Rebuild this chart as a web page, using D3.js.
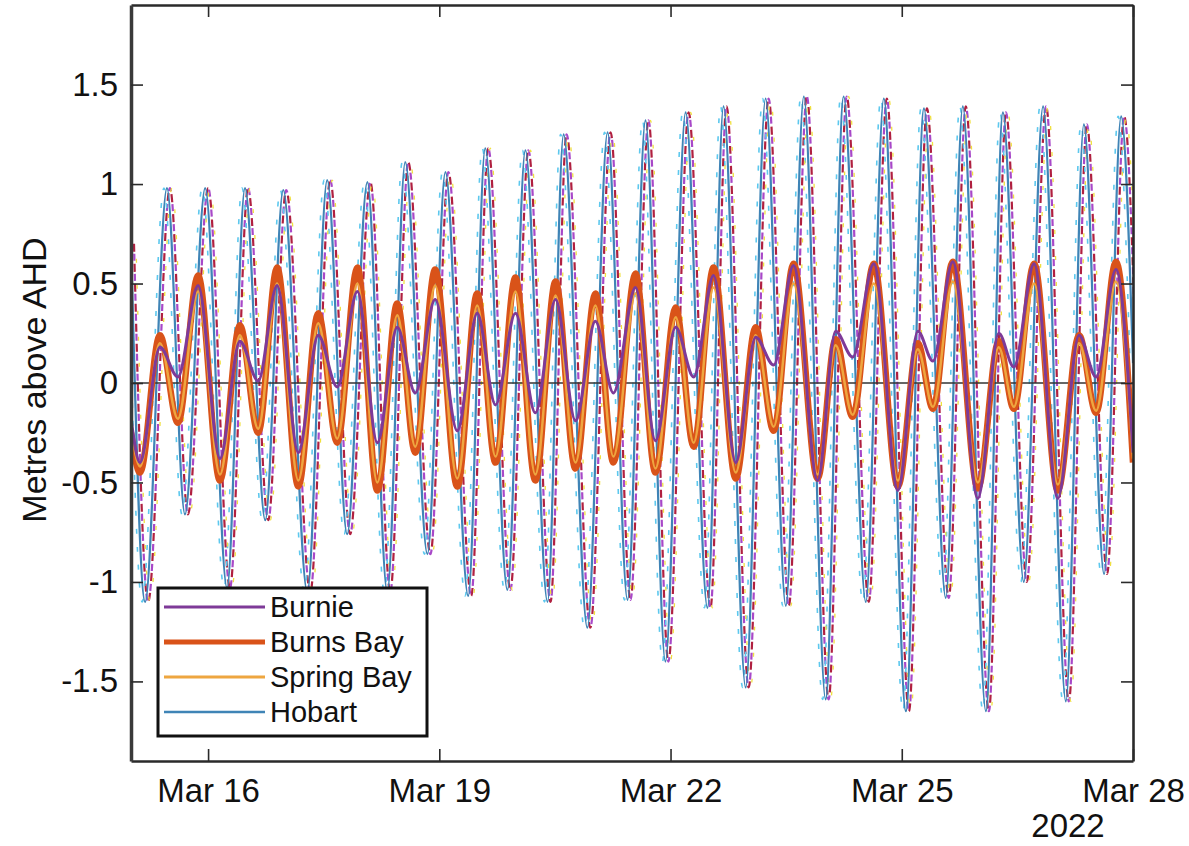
<!DOCTYPE html>
<html><head><meta charset="utf-8">
<script src="https://cdn.jsdelivr.net/npm/d3@7"></script>
<style>
body{margin:0;background:#fff;}
text{font-family:"Liberation Sans",Arial,sans-serif;fill:#111;}
</style>
</head><body>
<svg id="c" width="1189" height="846"></svg>
<script>
// ---------------- data ----------------
const startDate = "2022-03-15T00:00";
const endDate = "2022-03-28T00:00";
const xTickDates = ["2022-03-16T00:00","2022-03-19T00:00","2022-03-22T00:00","2022-03-25T00:00","2022-03-28T00:00"];
const yTicks = [-1.5,-1,-0.5,0,0.5,1,1.5];
const yearLabel = "2022";
const yLabel = "Metres above AHD";
const seriesNames = ["Burnie","Burns Bay","Spring Bay","Hobart"];

// hours after 15 Mar 00:00 for the three low-range gauges (turning points)
const smallHours = [0,2.8,9.0,14.6,20.9,27.7,33.9,39.6,45.5,52.1,58.3,64.2,70.5,76.7,82.9,88.5,94.7,101.6,107.8,113.5,119.7,125.9,132.2,138.4,144.6,150.2,157.1,163.3,169.6,175.2,181.4,188.3,194.5,200.1,206.3,213.8,219.4,224.7,231.3,238.8,245.0,249.7,255.9,263.7,270.2,274.9,281.2,288.6,295.2,300.5,306.7,312];
const burnieLevels = [-0.18,-0.40,0.18,0.03,0.49,-0.38,0.21,0.01,0.49,-0.35,0.24,-0.02,0.46,-0.30,0.28,-0.05,0.42,-0.24,0.35,-0.11,0.35,-0.15,0.42,-0.19,0.31,-0.05,0.48,-0.29,0.28,0.03,0.54,-0.40,0.23,0.09,0.59,-0.49,0.26,0.13,0.60,-0.54,0.26,0.11,0.61,-0.58,0.25,0.08,0.60,-0.58,0.24,0.03,0.57,-0.35];
const burnsBayLevels = [-0.25,-0.45,0.24,-0.20,0.54,-0.49,0.29,-0.25,0.58,-0.52,0.35,-0.30,0.58,-0.54,0.40,-0.35,0.57,-0.52,0.45,-0.40,0.53,-0.49,0.51,-0.43,0.45,-0.40,0.55,-0.45,0.38,-0.32,0.58,-0.48,0.28,-0.24,0.60,-0.48,0.22,-0.17,0.60,-0.52,0.20,-0.13,0.61,-0.53,0.21,-0.13,0.60,-0.54,0.24,-0.15,0.61,-0.40];
const springBayLevels = [-0.22,-0.42,0.20,-0.18,0.46,-0.46,0.24,-0.23,0.50,-0.49,0.30,-0.28,0.50,-0.50,0.34,-0.32,0.49,-0.48,0.39,-0.37,0.46,-0.46,0.44,-0.40,0.39,-0.37,0.45,-0.43,0.33,-0.30,0.48,-0.45,0.24,-0.22,0.50,-0.46,0.19,-0.16,0.50,-0.49,0.17,-0.12,0.51,-0.50,0.18,-0.12,0.50,-0.51,0.20,-0.14,0.51,-0.38];

// large-range gauge
const hobartHours = [0,4.4,11.2,16.8,23.1,29.9,35.5,41.8,47.4,54.9,61.1,67.3,73.6,79.8,85.4,92.3,97.9,105.0,110.3,117.2,122.8,129.7,134.7,142.1,148.4,154.6,160.2,166.4,172.7,179.5,184.5,191.4,197.6,203.9,209.5,216.3,221.9,228.8,234.4,241.3,246.9,253.7,259.0,266.2,271.5,278.0,284.0,291.1,296.7,303.0,308.3,312];
const hobartLevels = [0.70,-1.10,0.98,-0.66,0.98,-1.03,0.98,-0.69,0.97,-1.05,1.02,-0.76,1.01,-1.05,1.11,-0.86,1.06,-1.07,1.18,-1.04,1.17,-1.10,1.25,-1.23,1.26,-1.09,1.32,-1.40,1.36,-1.13,1.39,-1.53,1.43,-1.12,1.44,-1.59,1.44,-1.10,1.43,-1.65,1.38,-1.08,1.39,-1.65,1.36,-1.00,1.39,-1.60,1.30,-0.96,1.34,0.10];

// ---------------- chart ----------------
const W = 1189, H = 846;
const M = {left:131, right:56, top:5, bottom:85};
const parse = d3.timeParse("%Y-%m-%dT%H:%M");
const t0 = parse(startDate), t1 = parse(endDate);
const svg = d3.select("#c");

const x = d3.scaleTime().domain([t0,t1]).range([M.left, W-M.right]);
const y = d3.scaleLinear().domain([-1.9,1.9]).range([H-M.bottom, M.top]);

const toPts = (hrs, vals) => hrs.map((h,i)=>({t:d3.timeMinute.offset(t0, Math.round(h*60)), v:vals[i]}));
const line = d3.line().x(d=>x(d.t)).y(d=>y(d.v)).curve(d3.curveMonotoneX);

svg.append("clipPath").attr("id","pc").append("rect")
  .attr("x",M.left).attr("y",M.top).attr("width",W-M.left-M.right).attr("height",H-M.top-M.bottom);
const g = svg.append("g").attr("clip-path","url(#pc)");

const hobart = toPts(hobartHours, hobartLevels);
// Hobart: blue line with coloured dashes alongside
g.append("path").datum(hobart).attr("d",line).attr("fill","none")
  .attr("transform","translate(3,0)")
  .attr("stroke","#b02040").attr("stroke-width",2.2).attr("stroke-dasharray","8,12");
g.append("path").datum(hobart).attr("d",line).attr("fill","none")
  .attr("transform","translate(3,0)")
  .attr("stroke","#a848c8").attr("stroke-width",2.2).attr("stroke-dasharray","7,13").attr("stroke-dashoffset",10);
g.append("path").datum(hobart).attr("d",line).attr("fill","none")
  .attr("transform","translate(-3,0)")
  .attr("stroke","#5cc8ee").attr("stroke-width",1.6).attr("stroke-dasharray","5,13").attr("stroke-dashoffset",3);
g.append("path").datum(hobart).attr("d",line).attr("fill","none")
  .attr("transform","translate(5,0)")
  .attr("stroke","#f0e040").attr("stroke-width",1.3).attr("stroke-dasharray","4,22").attr("stroke-dashoffset",11);
g.append("path").datum(hobart).attr("d",line).attr("fill","none")
  .attr("stroke","#3f84b6").attr("stroke-width",2.2);

// zero line
g.append("line").attr("x1",M.left).attr("x2",W-M.right).attr("y1",y(0)).attr("y2",y(0))
  .attr("stroke","#333").attr("stroke-width",1.3);

const series = [
  {name:"Burns Bay", pts:toPts(smallHours,burnsBayLevels), color:"#d95319", w:6.5},
  {name:"Spring Bay", pts:toPts(smallHours,springBayLevels), color:"#eea640", w:2.5},
  {name:"Burnie", pts:toPts(smallHours,burnieLevels), color:"#7e3a98", w:3},
];
series.forEach(s=>{
  g.append("path").datum(s.pts).attr("d",line).attr("fill","none")
    .attr("stroke",s.color).attr("stroke-width",s.w).attr("stroke-linejoin","round");
});

// axes
const fs = 33;
const tickDates = xTickDates.map(parse);
const ax = svg.append("g").attr("transform",`translate(0,${H-M.bottom})`)
  .call(d3.axisBottom(x).tickValues(tickDates).tickFormat(d3.timeFormat("%b %d")).tickSizeInner(-12).tickSizeOuter(0).tickPadding(18));
const axT = svg.append("g").attr("transform",`translate(0,${M.top})`)
  .call(d3.axisTop(x).tickValues(tickDates).tickFormat("").tickSizeInner(-12).tickSizeOuter(0));
const ay = svg.append("g").attr("transform",`translate(${M.left},0)`)
  .call(d3.axisLeft(y).tickValues(yTicks).tickFormat(d=>String(d)).tickSizeInner(-12).tickSizeOuter(0).tickPadding(13));
const ayR = svg.append("g").attr("transform",`translate(${W-M.right},0)`)
  .call(d3.axisRight(y).tickValues(yTicks).tickFormat("").tickSizeInner(-12).tickSizeOuter(0));
[ax,axT,ay,ayR].forEach(a=>{
  a.selectAll(".domain").attr("stroke","#2a2a2a").attr("stroke-width",2.6);
  a.selectAll(".tick line").attr("stroke","#2a2a2a").attr("stroke-width",1.6);
  a.selectAll("text").attr("font-size",fs).attr("font-family","Liberation Sans, Arial, sans-serif").attr("fill","#111");
});
ay.select(".domain").attr("stroke","#3a3a3a").attr("stroke-width",3.5);

svg.append("text").attr("x",1068).attr("y",837).attr("text-anchor","middle")
  .attr("font-size",fs).text(yearLabel);

svg.append("text").attr("transform","translate(46,380) rotate(-90)")
  .attr("text-anchor","middle").attr("font-size",34).text(yLabel);

// legend
const legendStyle = {
  "Burnie":{color:"#7e3a98", w:3},
  "Burns Bay":{color:"#d95319", w:5},
  "Spring Bay":{color:"#eea640", w:3},
  "Hobart":{color:"#3f84b6", w:2.5}
};
const lg = svg.append("g");
lg.append("rect").attr("x",158).attr("y",588).attr("width",269).attr("height",148)
  .attr("fill","#fff").attr("stroke","#111").attr("stroke-width",3);
seriesNames.forEach((n,i)=>{
  const cy = 607 + i*35;
  lg.append("line").attr("x1",164).attr("x2",265).attr("y1",cy).attr("y2",cy)
    .attr("stroke",legendStyle[n].color).attr("stroke-width",legendStyle[n].w);
  lg.append("text").attr("x",270).attr("y",cy+10).attr("font-size",29).text(n);
});
</script>
</body></html>
